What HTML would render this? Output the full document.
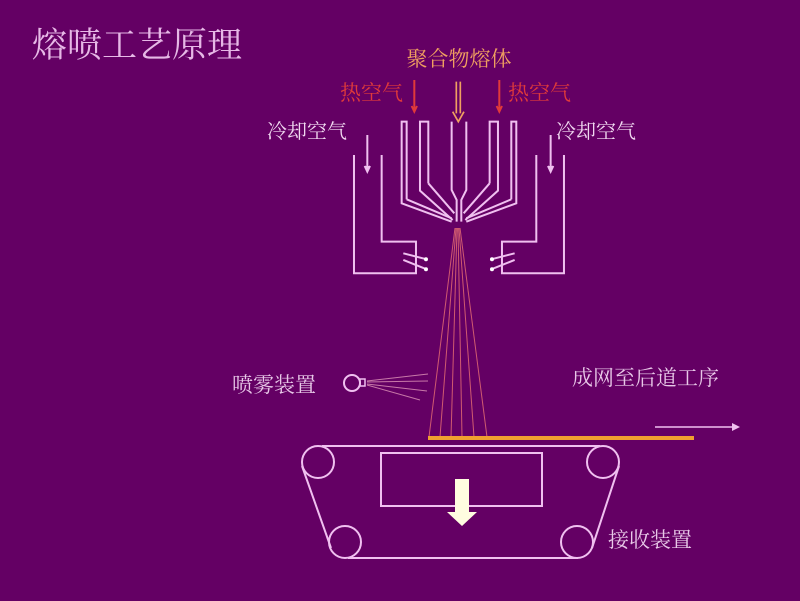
<!DOCTYPE html>
<html><head><meta charset="utf-8"><style>
html,body{margin:0;padding:0;background:#640064;}
svg{display:block;}
text{font-family:"Liberation Serif","Noto Serif CJK SC","Noto Sans CJK SC",serif;}
</style></head><body>
<svg width="800" height="601" viewBox="0 0 800 601" xmlns="http://www.w3.org/2000/svg">
<rect width="800" height="601" fill="#640064"/>
<text x="32" y="57" font-size="35" fill="#e6b8e6">熔喷工艺原理</text>
<text x="459" y="66" font-size="21" fill="#f0a060" text-anchor="middle">聚合物熔体</text>
<text x="340" y="100" font-size="21" fill="#e03a3a">热空气</text>
<text x="508" y="100" font-size="21" fill="#e03a3a">热空气</text>
<text x="267" y="138" font-size="20" fill="#f0d8f0">冷却空气</text>
<text x="556" y="138" font-size="20" fill="#f0d8f0">冷却空气</text>
<text x="232" y="392" font-size="21" fill="#e8c8e8">喷雾装置</text>
<text x="572" y="385" font-size="21" fill="#e8c8e8">成网至后道工序</text>
<text x="608" y="547" font-size="21" fill="#e8c8e8">接收装置</text>

<g transform="translate(260,40) scale(0.3333)" fill="none" stroke="#f0c0f0" stroke-width="6">
 <g id="L">
  <path d="M440,478 L440,245 L425,245 L425,490 L575,545"/>
  <path d="M440,478 L575,535"/>
  <path d="M505,430 L505,245 L480,245 L480,452 L578,540"/>
  <path d="M505,430 L583,520"/>
  <path d="M575,245 L575,450 L590,480 L590,545"/>
  <path d="M282,345 L282,700 L468,700 L468,605 L365,605 L365,345"/>
  <path d="M430,640 L500,658 M430,660 L500,688"/>
  <path d="M322,285 L322,390"/>
  <path d="M314,378 L322,395 L330,378" fill="#f0c0f0"/>
 </g>
 <g transform="translate(1194,0) scale(-1,1)">
  <path d="M440,478 L440,245 L425,245 L425,490 L575,545"/>
  <path d="M440,478 L575,535"/>
  <path d="M505,430 L505,245 L480,245 L480,452 L578,540"/>
  <path d="M505,430 L583,520"/>
  <path d="M575,245 L575,450 L590,480 L590,545"/>
  <path d="M282,345 L282,700 L468,700 L468,605 L365,605 L365,345"/>
  <path d="M430,640 L500,658 M430,660 L500,688"/>
  <path d="M322,285 L322,390"/>
  <path d="M314,378 L322,395 L330,378" fill="#f0c0f0"/>
 </g>
 <g fill="#ffffff" stroke="none">
  <circle cx="498" cy="658" r="6"/><circle cx="498" cy="688" r="6"/>
  <circle cx="696" cy="658" r="6"/><circle cx="696" cy="688" r="6"/>
 </g>
 <g stroke="#e03a3a">
  <path d="M463,120 L463,210 M455,198 L463,215 L471,198"/>
  <path d="M718,120 L718,210 M710,198 L718,215 L726,198"/>
 </g>
 <g stroke="#f0a060" stroke-width="5">
  <path d="M589,125 L589,220 M601,125 L601,220 M578,215 L595,245 L612,215"/>
 </g>
</g>

<g stroke="#d05a70" stroke-width="1">
 <line x1="455" y1="228" x2="429" y2="437"/>
 <line x1="456" y1="228" x2="440" y2="437"/>
 <line x1="457" y1="228" x2="451" y2="437"/>
 <line x1="458" y1="228" x2="462" y2="437"/>
 <line x1="459" y1="228" x2="474" y2="437"/>
 <line x1="460" y1="228" x2="487" y2="437"/>
</g>
<circle cx="352" cy="383" r="8" fill="none" stroke="#f0c0f0" stroke-width="2"/>
<rect x="360" y="379" width="5" height="7" fill="none" stroke="#f0c0f0" stroke-width="1.5"/>
<g stroke="#c878a8" stroke-width="1">
 <line x1="367" y1="381" x2="428" y2="374"/>
 <line x1="367" y1="382" x2="428" y2="381"/>
 <line x1="367" y1="384" x2="427" y2="391"/>
 <line x1="367" y1="385" x2="420" y2="400"/>
</g>
<rect x="428" y="436" width="266" height="4" fill="#f0a030"/>
<line x1="655" y1="427" x2="735" y2="427" stroke="#f0c0f0" stroke-width="1.5"/>
<path d="M732,423 L740,427 L732,431 Z" fill="#f0c0f0"/>
<g fill="none" stroke="#f0c0f0" stroke-width="2">
 <circle cx="318" cy="462" r="16"/>
 <circle cx="603" cy="462" r="16"/>
 <circle cx="345" cy="542" r="16"/>
 <circle cx="577" cy="542" r="16"/>
 <line x1="322" y1="446" x2="600" y2="446"/>
 <line x1="348" y1="558" x2="578" y2="558"/>
 <line x1="302" y1="466" x2="331" y2="548"/>
 <line x1="619" y1="466" x2="592" y2="548"/>
 <rect x="381" y="453" width="161" height="53"/>
</g>
<path d="M455,479 L469,479 L469,512 L477,512 L462,526 L447,512 L455,512 Z" fill="#fffde0"/>
</svg>
</body></html>
